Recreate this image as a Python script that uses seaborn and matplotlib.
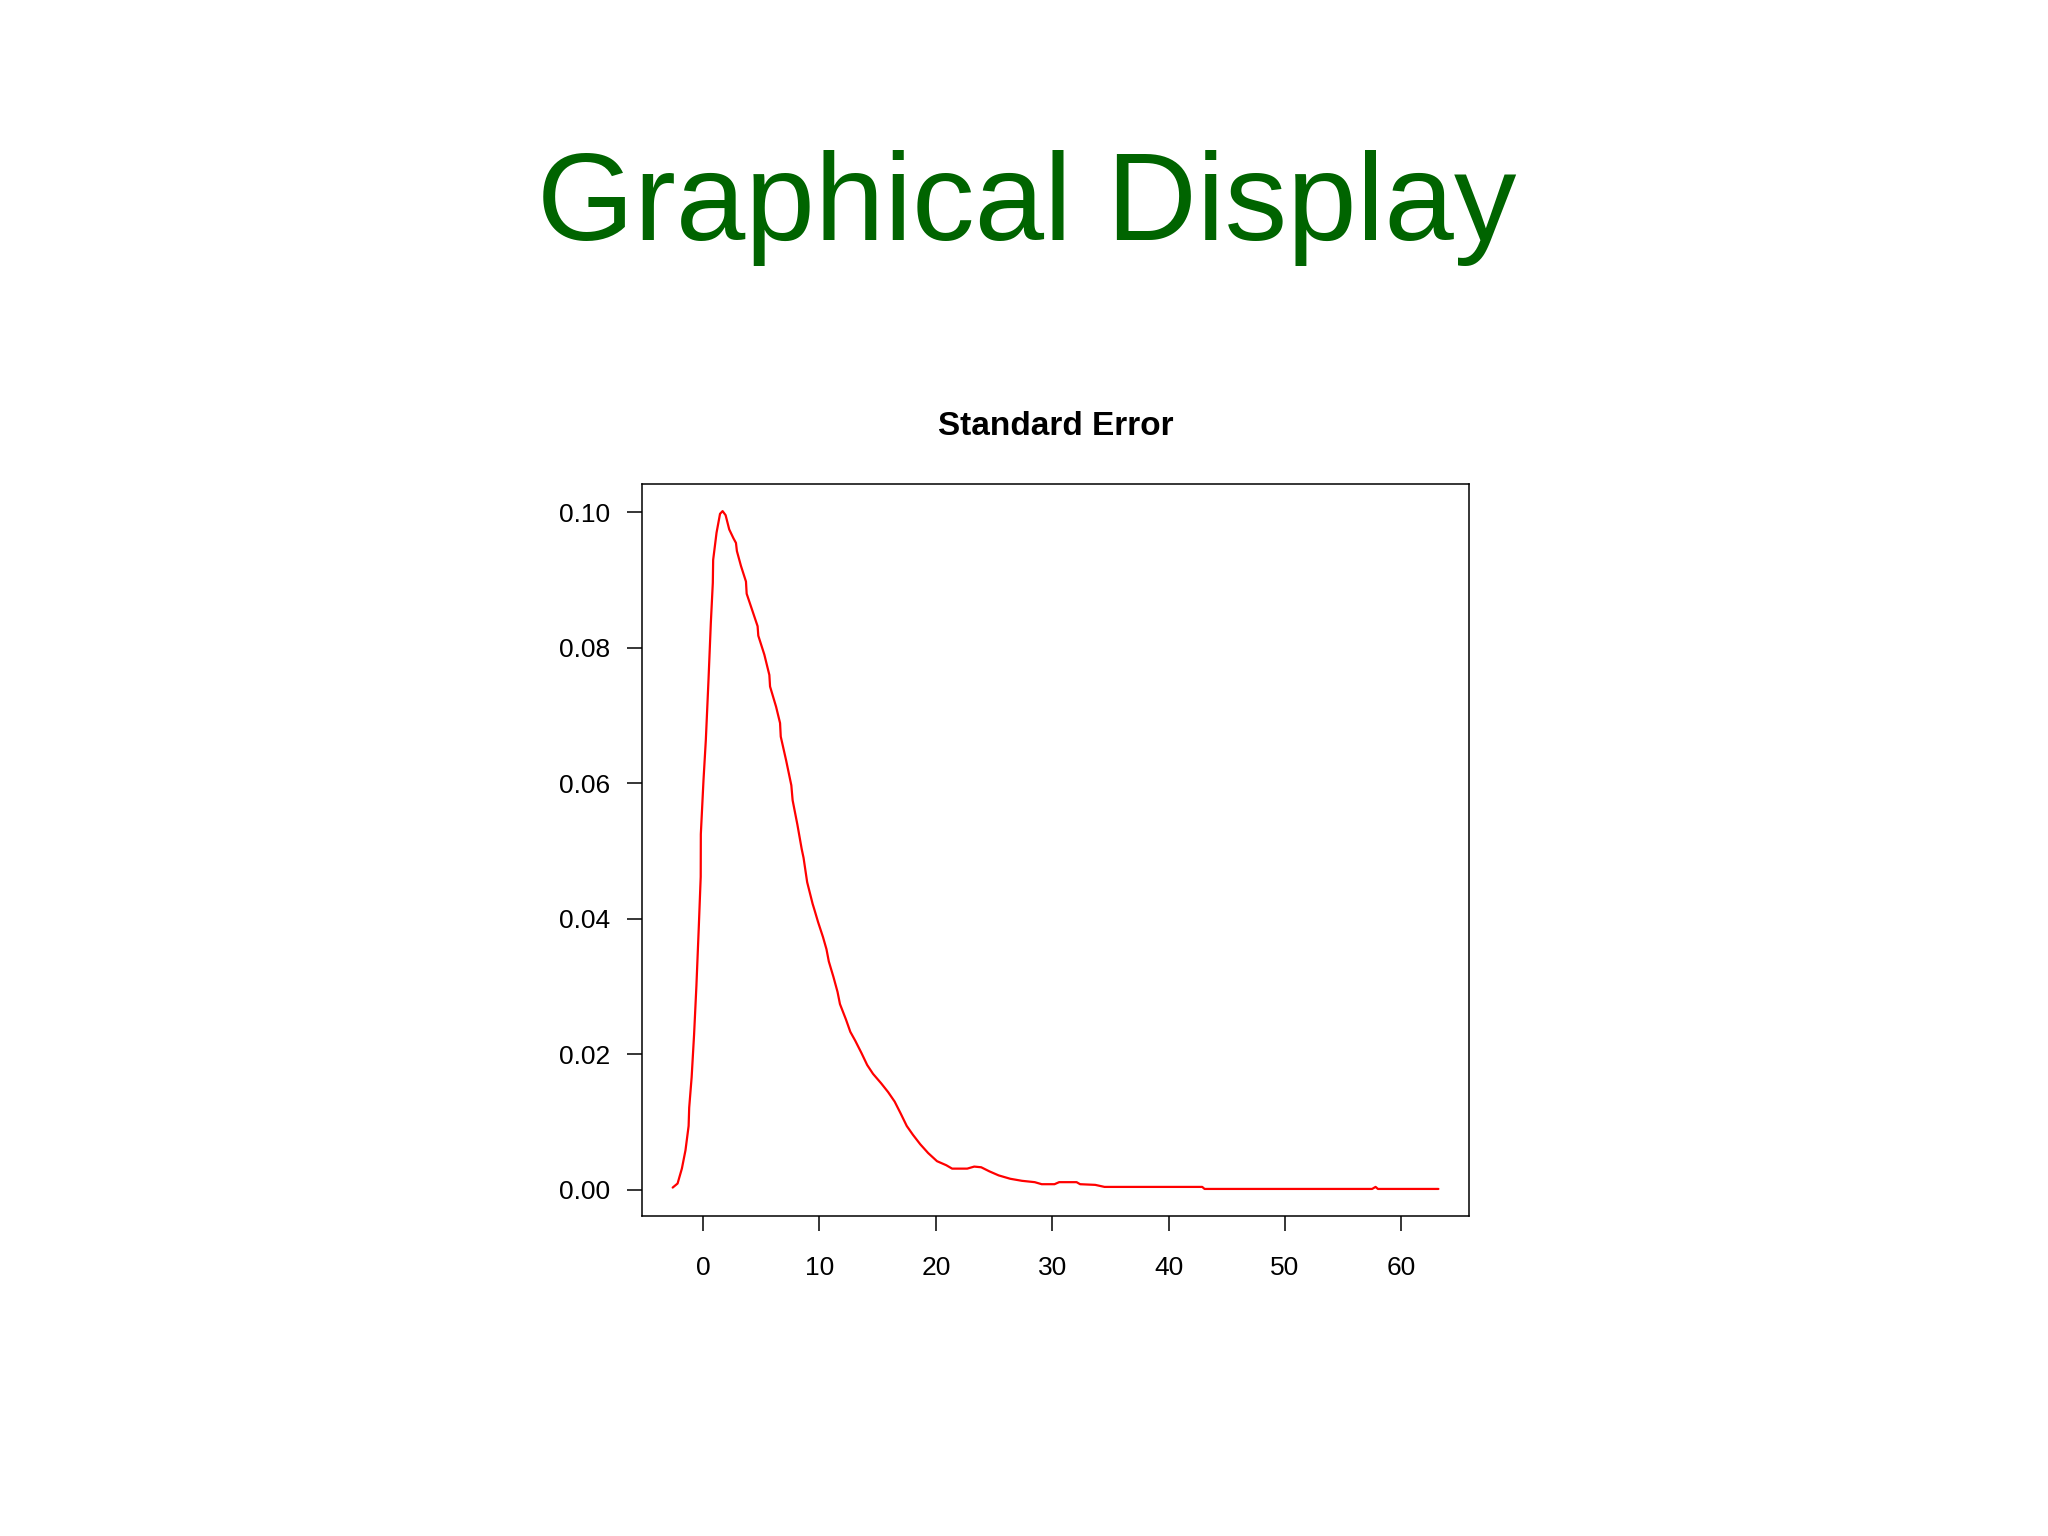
import numpy as np
import pandas as pd
import seaborn as sns
import matplotlib.pyplot as plt

# density curve
se_x = [-2.62, -2.2, -1.83, -1.52, -1.25, -1.2, -0.99, -0.78, -0.58, -0.37,
        -0.21, -0.2, 0.03, 0.23, 0.46, 0.66, 0.83, 0.86, 1.15, 1.45,
        1.67, 1.93, 2.24, 2.6, 2.82, 2.9, 3.25, 3.68, 3.74, 4.25,
        4.68, 4.74, 5.26, 5.69, 5.75, 6.27, 6.61, 6.67, 7.13, 7.58,
        7.69, 8.1, 8.47, 8.63, 8.94, 9.41, 9.57, 9.88, 10.3, 10.6,
        10.8, 11.2, 11.55, 11.76, 12.28, 12.65, 13.07, 13.6, 14.1, 14.6,
        15.3, 15.9, 16.46, 16.99, 17.5, 18.03, 18.66, 19.34, 20.1, 20.9,
        21.4, 22.7, 23.3, 23.9, 24.6, 25.4, 26.4, 27.4, 28.5, 29.1,
        30.2, 30.6, 32.1, 32.4, 33.7, 34.5, 42.9, 43.1, 57.5, 57.8,
        58.0, 63.2]
se_density = [0.0003, 0.0009, 0.0031, 0.0058, 0.0094, 0.0121, 0.0166, 0.0229, 0.0301, 0.039,
              0.0462, 0.0525, 0.0605, 0.0664, 0.0753, 0.0837, 0.0896, 0.0930, 0.0970, 0.0998,
              0.1002, 0.0996, 0.0975, 0.0962, 0.0955, 0.0943, 0.0921, 0.0898, 0.0880, 0.0854,
              0.0832, 0.0818, 0.0790, 0.0760, 0.0743, 0.0713, 0.0689, 0.0669, 0.0634, 0.0597,
              0.0575, 0.0539, 0.0503, 0.049, 0.0454, 0.0422, 0.0413, 0.0395, 0.0373, 0.0355,
              0.0337, 0.0314, 0.0292, 0.0274, 0.0251, 0.0233, 0.022, 0.0202, 0.0184, 0.0171,
              0.0157, 0.0144, 0.013, 0.0112, 0.0094, 0.0081, 0.0067, 0.0054, 0.0042, 0.0036,
              0.0031, 0.0031, 0.0034, 0.0033, 0.0027, 0.0021, 0.0016, 0.0013, 0.0011, 0.0008,
              0.0008, 0.0011, 0.0011, 0.0008, 0.0007, 0.0004, 0.0004, 0.0001, 0.0001, 0.0004,
              0.0001, 0.0001]
x_ticks = [0, 10, 20, 30, 40, 50, 60]
y_ticks = [0.00, 0.02, 0.04, 0.06, 0.08, 0.10]

df = pd.DataFrame({"x": se_x, "density": se_density})

sns.set_theme(style="ticks")
plt.rcParams['font.family'] = ['Liberation Sans', 'DejaVu Sans']

fig = plt.figure(figsize=(20.48, 15.36), dpi=100)
ax = fig.add_axes([0.3135, 0.2083, 0.4038, 0.4766])

sns.lineplot(data=df, x="x", y="density", color="#ff0000", linewidth=1.6,
             estimator=None, ax=ax)

# R-style 4% padding
xr = df["x"].max() - df["x"].min()
ax.set_xlim(df["x"].min() - 0.04 * xr, df["x"].max() + 0.04 * xr)
yr = df["density"].max() - df["density"].min()
ax.set_ylim(df["density"].min() - 0.04 * yr, df["density"].max() + 0.04 * yr)

ax.set_xticks(x_ticks)
ax.set_xticklabels([str(t) for t in x_ticks])
ax.set_yticks(y_ticks)
ax.set_yticklabels(["%.2f" % t for t in y_ticks])
ax.set_xlabel("")
ax.set_ylabel("")

for s in ax.spines.values():
    s.set_visible(True)
    s.set_linewidth(1.1)
    s.set_color("black")
ax.tick_params(axis="both", direction="out", length=11, width=1.1,
               color="black", labelsize=19, labelcolor="black")
ax.tick_params(axis="x", pad=18)
ax.tick_params(axis="y", pad=12)

ax.set_title("Standard Error", fontsize=24, fontweight="bold", color="black", pad=35)

fig.text(0.5015, 0.8437, "Graphical Display", color="#006400", fontsize=90,
         ha="center", va="baseline")

fig.savefig("out.png", dpi=100, facecolor="white")
plt.close("all")
